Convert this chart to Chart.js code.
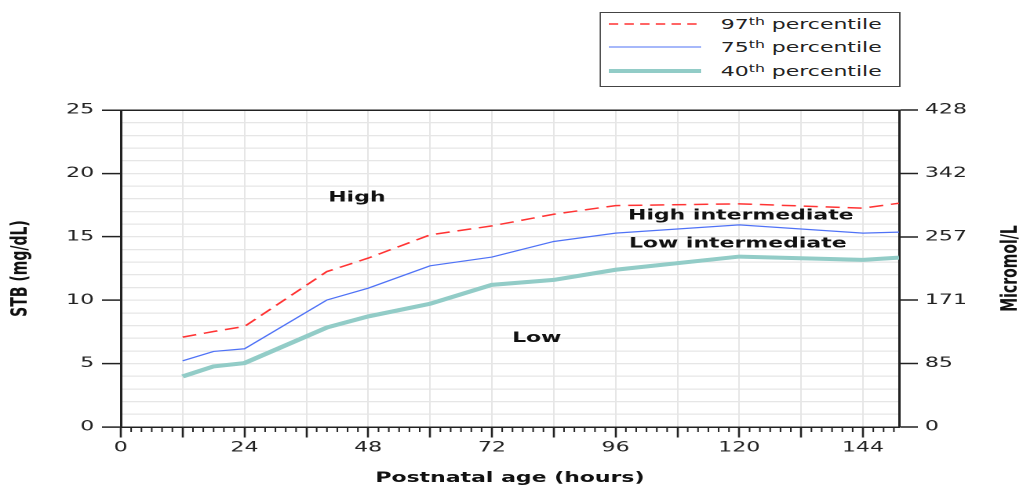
<!DOCTYPE html>
<html>
<head>
<meta charset="utf-8">
<script src="https://cdn.jsdelivr.net/npm/chart.js@4/dist/chart.umd.min.js"></script>
<style>
  html, body { margin: 0; padding: 0; background: #fff; overflow: hidden; }
  #wrap { position: absolute; left: 0; top: 0; width: 652px; height: 488px;
          transform: scaleX(1.569); transform-origin: 0 0; }
  #c { position: absolute; left: 0; top: 0; }
  #legend { position: absolute; left: 382.4px; top: 11.5px; width: 191.6px; height: 75.5px;
            border: 1.3px solid #444; box-sizing: border-box; background: #fff;
            font-family: 'DejaVu Sans', sans-serif; font-size: 14px; color: #222; }
  .row { position: absolute; left: 0; width: 100%; height: 20px; }
  .row svg { position: absolute; left: 5px; top: 0; }
  .row span { position: absolute; left: 76px; top: 0; line-height: 20px; white-space: nowrap; }
  .row sup { font-size: 10px; vertical-align: 4px; line-height: 0; }
</style>
</head>
<body>
<div id="wrap">
  <canvas id="c" width="652" height="488"></canvas>
  <div id="legend"></div>
</div>
<script>
// ---- data ----
const hours = [12, 18, 24, 40, 48, 60, 72, 84, 96, 120, 144, 151];
const p97 = [7.09, 7.53, 7.93, 12.26, 13.32, 15.15, 15.86, 16.78, 17.46, 17.6, 17.26, 17.65];
const p75 = [5.22, 5.96, 6.17, 10.02, 10.95, 12.71, 13.4, 14.63, 15.29, 15.94, 15.29, 15.37];
const p40 = [3.99, 4.78, 5.04, 7.85, 8.72, 9.72, 11.21, 11.6, 12.4, 13.44, 13.18, 13.36];
const seriesNames = ['97th percentile', '75th percentile', '40th percentile'];
const xMajorTicks = [0, 12, 24, 36, 48, 60, 72, 84, 96, 108, 120, 132, 144];
const xLabelTicks = [0, 24, 48, 72, 96, 120, 144];
const yLeftTicks = ['0', '5', '10', '15', '20', '25'];
const yRightTicks = ['0', '85', '171', '257', '342', '428'];
const zoneNames = ['High', 'High intermediate', 'Low intermediate', 'Low'];
const xTitle = 'Postnatal age (hours)';
const yTitle = 'STB (mg/dL)';
const y2Title = 'Micromol/L';

const FAMILY = "'DejaVu Sans', sans-serif";
const toPts = arr => hours.map((h, i) => ({ x: h, y: arr[i] }));

const styles = [
  { color: '#ff3333', width: 1.5, dash: [9, 5], legendDash: '6,4' },
  { color: '#4f72f6', width: 1.2, dash: [], legendDash: '' },
  { color: '#92ccc7', width: 4, dash: [], legendDash: '' }
];

const zonesPlugin = {
  id: 'zones',
  afterDatasetsDraw(chart, args, opts) {
    const { ctx, scales } = chart;
    ctx.save();
    ctx.font = 'bold 14px ' + FAMILY;
    ctx.fillStyle = '#111';
    ctx.textAlign = 'center';
    ctx.textBaseline = 'middle';
    opts.items.forEach((it, i) => {
      ctx.fillText(zoneNames[i], scales.x.getPixelForValue(it.x), scales.y.getPixelForValue(it.y));
    });
    ctx.restore();
  }
};

const minorTicksPlugin = {
  id: 'minorTicks',
  afterDraw(chart) {
    const { ctx, scales, chartArea } = chart;
    const x = scales.x;
    ctx.save();
    ctx.strokeStyle = '#222';
    ctx.lineWidth = 1;
    ctx.beginPath();
    for (let h = x.min; h <= x.max; h += 2) {
      if (h % 12 === 0) continue;
      const px = x.getPixelForValue(h);
      ctx.moveTo(px, chartArea.bottom);
      ctx.lineTo(px, chartArea.bottom + 5);
    }
    ctx.stroke();
    ctx.restore();
  }
};

const rightTitlePlugin = {
  id: 'rightTitle',
  afterDraw(chart) {
    const { ctx, chartArea } = chart;
    ctx.save();
    ctx.font = 'bold 14px ' + FAMILY;
    ctx.fillStyle = '#111';
    ctx.textAlign = 'center';
    ctx.textBaseline = 'middle';
    ctx.translate(chart.width - 7.5, (chartArea.top + chartArea.bottom) / 2);
    ctx.rotate(-Math.PI / 2);
    ctx.fillText(y2Title, 0, 0);
    ctx.restore();
  }
};

new Chart(document.getElementById('c'), {
  type: 'line',
  data: {
    datasets: [p97, p75, p40].map((arr, i) => ({
      label: seriesNames[i],
      data: toPts(arr),
      borderColor: styles[i].color,
      borderWidth: styles[i].width,
      borderDash: styles[i].dash,
      pointRadius: 0,
      fill: false,
      tension: 0
    })).reverse()
  },
  options: {
    responsive: false,
    animation: false,
    devicePixelRatio: 2,
    layout: { padding: { top: 110, left: 0, right: 0, bottom: 0 } },
    plugins: {
      legend: { display: false },
      tooltip: { enabled: false },
      zones: {
        items: [
          { x: 45.8, y: 18.07 },
          { x: 120.3, y: 16.65 },
          { x: 119.7, y: 14.45 },
          { x: 80.7, y: 7.0 }
        ]
      }
    },
    scales: {
      x: {
        type: 'linear', position: 'bottom', min: 0, max: 151,
        afterBuildTicks: s => { s.ticks = xMajorTicks.map(v => ({ value: v })); },
        afterFit: s => { s.height = 61; },
        grid: {
          z: -2,
          color: c => (c.tick && c.tick.value === 0) ? 'rgba(0,0,0,0)' : '#e6e6e6',
          lineWidth: 1,
          tickLength: 10.5,
          tickColor: '#222',
          tickWidth: 1.3
        },
        border: { color: '#222', width: 1.5 },
        ticks: {
          autoSkip: false, maxRotation: 0, padding: 2, color: '#222',
          font: { family: FAMILY, size: 14 },
          callback: v => xLabelTicks.includes(v) ? String(v) : ''
        },
        title: {
          display: true, text: xTitle, color: '#111',
          font: { family: FAMILY, size: 14, weight: 'bold', lineHeight: 1.2 },
          padding: { top: 0, bottom: 1 }
        }
      },
      y: {
        position: 'left', min: 0, max: 25,
        afterFit: s => { s.width = 77; },
        grid: {
          color: c => (c.tick && c.tick.value === 25) ? '#222' : '#e6e6e6',
          lineWidth: c => (c.tick && c.tick.value === 25) ? 1.5 : 1.2,
          tickLength: 12,
          tickColor: c => (c.tick && c.tick.value % 5 === 0) ? '#222' : 'rgba(0,0,0,0)',
          tickWidth: 1.5
        },
        border: { color: '#222', width: 1.5 },
        ticks: {
          stepSize: 1, autoSkip: false, padding: 5, color: '#222',
          font: { family: FAMILY, size: 14 },
          callback: v => (v % 5 === 0) ? yLeftTicks[v / 5] : ''
        },
        title: {
          display: true, text: yTitle, color: '#111',
          font: { family: FAMILY, size: 14, weight: 'bold', lineHeight: 1.2 },
          padding: { top: 5, bottom: 0 }
        }
      },
      y2: {
        position: 'right', min: 0, max: 25,
        afterFit: s => { s.width = 79; },
        grid: { drawOnChartArea: false, tickLength: 12, tickColor: '#222', tickWidth: 1.5 },
        border: { color: '#222', width: 1.5 },
        ticks: {
          stepSize: 5, autoSkip: false, padding: 4.5, color: '#222',
          font: { family: FAMILY, size: 14 },
          callback: v => yRightTicks[v / 5]
        },
        title: { display: false }
      }
    }
  },
  plugins: [zonesPlugin, minorTicksPlugin, rightTitlePlugin]
});

// ---- HTML legend (keeps the superscript "th") ----
const legend = document.getElementById('legend');
const rowCenters = [11, 34.8, 58.6];
seriesNames.forEach((name, i) => {
  const st = styles[i];
  const row = document.createElement('div');
  row.className = 'row';
  row.style.top = (rowCenters[i] - 10) + 'px';
  row.innerHTML =
    '<svg width="59" height="20"><line x1="0" y1="10" x2="59" y2="10" stroke="' + st.color +
    '" stroke-width="' + st.width + '"' + (st.legendDash ? ' stroke-dasharray="' + st.legendDash + '"' : '') +
    '/></svg><span>' + name.replace(/(\d+)th/, '$1<sup>th</sup>') + '</span>';
  legend.appendChild(row);
});
</script>
</body>
</html>
